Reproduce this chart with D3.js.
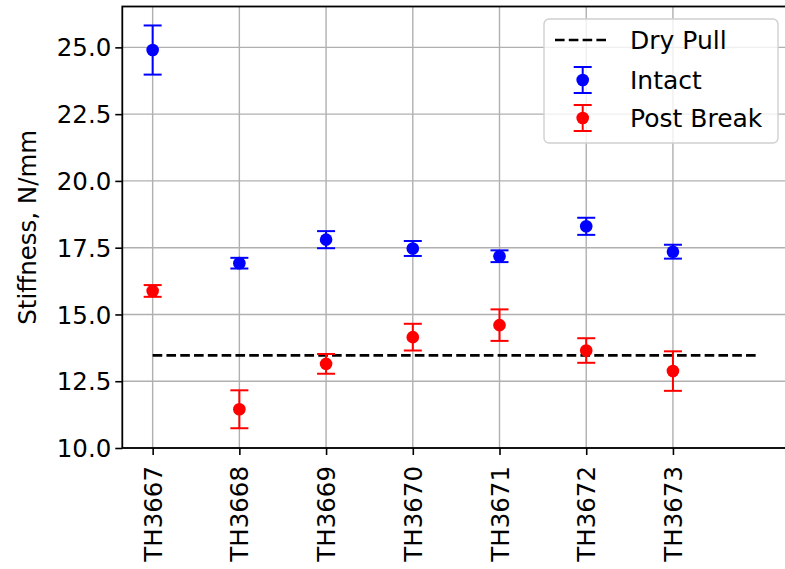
<!DOCTYPE html>
<html>
<head>
<meta charset="utf-8">
<script src="https://cdn.jsdelivr.net/npm/d3@7"></script>
<style>
    body { margin: 0; background: #fff; }
    text { font-family: "DejaVu Sans", sans-serif; fill: #000; }
</style>
</head>
<body>
<div class="chart"></div>
<script>
const samples = ["TH3667", "TH3668", "TH3669", "TH3670", "TH3671", "TH3672", "TH3673"]

const intactMean = [24.9, 16.92, 17.8, 17.47, 17.18, 18.3, 17.35]
const intactErr = [0.92, 0.2, 0.32, 0.28, 0.22, 0.32, 0.26]

const breakMean = [15.88, 11.45, 13.15, 14.15, 14.6, 13.65, 12.88]
const breakErr = [0.22, 0.71, 0.37, 0.5, 0.59, 0.46, 0.74]

const dryPull = 13.47

const yTicks = [10.0, 12.5, 15.0, 17.5, 20.0, 22.5, 25.0]

const legendItems = ["Dry Pull", "Intact", "Post Break"]

function drawChart() {
    const width = 785
    const height = 569
    const margin = { top: 6.5, right: -5, bottom: 121, left: 122.3 }
    const fontSize = 24.5

    const innerW = width - margin.left - margin.right
    const innerH = height - margin.top - margin.bottom

    const svg = d3.select(".chart").append("svg")
        .attr("width", width)
        .attr("height", height)

    const g = svg.append("g")
        .attr("transform", "translate(" + margin.left + "," + margin.top + ")")

    const xScale = d3.scaleLinear()
        .domain([-0.35, 7.35])
        .range([0, innerW])

    const yScale = d3.scaleLinear()
        .domain([10, 26.53])
        .range([innerH, 0])

    // grid
    g.append("g")
        .selectAll("line")
        .data(d3.range(samples.length))
        .enter()
        .append("line")
        .attr("x1", d => xScale(d))
        .attr("x2", d => xScale(d))
        .attr("y1", 0)
        .attr("y2", innerH)
        .attr("stroke", "#b0b0b0")
        .attr("stroke-width", 1.4)

    g.append("g")
        .selectAll("line")
        .data(yTicks)
        .enter()
        .append("line")
        .attr("x1", 0)
        .attr("x2", innerW)
        .attr("y1", d => yScale(d))
        .attr("y2", d => yScale(d))
        .attr("stroke", "#b0b0b0")
        .attr("stroke-width", 1.4)

    // dry pull reference
    g.append("line")
        .attr("x1", xScale(0))
        .attr("x2", xScale(7))
        .attr("y1", yScale(dryPull))
        .attr("y2", yScale(dryPull))
        .attr("stroke", "#000")
        .attr("stroke-width", 2.7)
        .attr("stroke-dasharray", "9.6,4.2")

    function errorSeries(means, errs, color) {
        const grp = g.append("g")
        const pts = grp.selectAll("g")
            .data(means)
            .enter()
            .append("g")
            .attr("transform", (d, i) => "translate(" + xScale(i) + ",0)")

        pts.append("line")
            .attr("x1", 0).attr("x2", 0)
            .attr("y1", (d, i) => yScale(d - errs[i]))
            .attr("y2", (d, i) => yScale(d + errs[i]))
            .attr("stroke", color)
            .attr("stroke-width", 2)

        pts.append("line")
            .attr("x1", -9).attr("x2", 9)
            .attr("y1", (d, i) => yScale(d - errs[i]))
            .attr("y2", (d, i) => yScale(d - errs[i]))
            .attr("stroke", color)
            .attr("stroke-width", 2)

        pts.append("line")
            .attr("x1", -9).attr("x2", 9)
            .attr("y1", (d, i) => yScale(d + errs[i]))
            .attr("y2", (d, i) => yScale(d + errs[i]))
            .attr("stroke", color)
            .attr("stroke-width", 2)

        pts.append("circle")
            .attr("cx", 0)
            .attr("cy", d => yScale(d))
            .attr("r", 6.3)
            .attr("fill", color)
    }

    errorSeries(intactMean, intactErr, "#0000ff")
    errorSeries(breakMean, breakErr, "#ff0000")

    // axes
    const yAxis = g.append("g")
        .call(d3.axisLeft(yScale).tickValues(yTicks).tickFormat(d3.format(".1f")).tickSize(7).tickPadding(4))
    yAxis.select(".domain").remove()
    yAxis.selectAll(".tick line").attr("stroke", "#000").attr("stroke-width", 1.6)
    yAxis.selectAll(".tick text")
        .style("font-size", fontSize + "px")
        .attr("dy", "0.35em")

    const xAxis = g.append("g")
        .attr("transform", "translate(0," + innerH + ")")
        .call(d3.axisBottom(xScale).tickValues(d3.range(samples.length)).tickFormat(i => samples[i]).tickSize(7))
    xAxis.select(".domain").remove()
    xAxis.selectAll(".tick line").attr("stroke", "#000").attr("stroke-width", 1.6)
    xAxis.selectAll(".tick text")
        .style("font-size", fontSize + "px")
        .attr("transform", "rotate(-90)")
        .attr("text-anchor", "end")
        .attr("x", -18)
        .attr("y", 0)
        .attr("dy", "0.35em")

    // spines (right one falls outside the picture)
    g.append("rect")
        .attr("x", 0)
        .attr("y", 0)
        .attr("width", innerW)
        .attr("height", innerH)
        .attr("fill", "none")
        .attr("stroke", "#000")
        .attr("stroke-width", 1.8)

    svg.append("text")
        .attr("transform", "translate(36," + (margin.top + innerH / 2) + ") rotate(-90)")
        .attr("text-anchor", "middle")
        .style("font-size", fontSize + "px")
        .text("Stiffness, N/mm")

    // legend
    const leg = svg.append("g").attr("transform", "translate(544,19)")
    leg.append("rect")
        .attr("width", 234)
        .attr("height", 124)
        .attr("rx", 5)
        .attr("fill", "#fff")
        .attr("fill-opacity", 0.8)
        .attr("stroke", "#d0d0d0")
        .attr("stroke-width", 1.4)

    const rowY = [21, 61, 99]
    leg.append("line")
        .attr("x1", 11).attr("x2", 64)
        .attr("y1", rowY[0]).attr("y2", rowY[0])
        .attr("stroke", "#000")
        .attr("stroke-width", 2.7)
        .attr("stroke-dasharray", "9.6,4.2")

    const legColors = ["#0000ff", "#ff0000"]
    legColors.forEach((c, k) => {
        const cy = rowY[k + 1]
        const h = leg.append("g").attr("transform", "translate(38.7," + cy + ")")
        h.append("line").attr("x1", 0).attr("x2", 0).attr("y1", -13).attr("y2", 13)
            .attr("stroke", c).attr("stroke-width", 2)
        h.append("line").attr("x1", -9).attr("x2", 9).attr("y1", -13).attr("y2", -13)
            .attr("stroke", c).attr("stroke-width", 2)
        h.append("line").attr("x1", -9).attr("x2", 9).attr("y1", 13).attr("y2", 13)
            .attr("stroke", c).attr("stroke-width", 2)
        h.append("circle").attr("r", 6.3).attr("fill", c)
    })

    leg.selectAll("text.lab")
        .data(legendItems)
        .enter()
        .append("text")
        .attr("class", "lab")
        .attr("x", 86)
        .attr("y", (d, i) => rowY[i])
        .attr("dy", "0.35em")
        .style("font-size", "25px")
        .text(d => d)
}
drawChart()
</script>
</body>
</html>
